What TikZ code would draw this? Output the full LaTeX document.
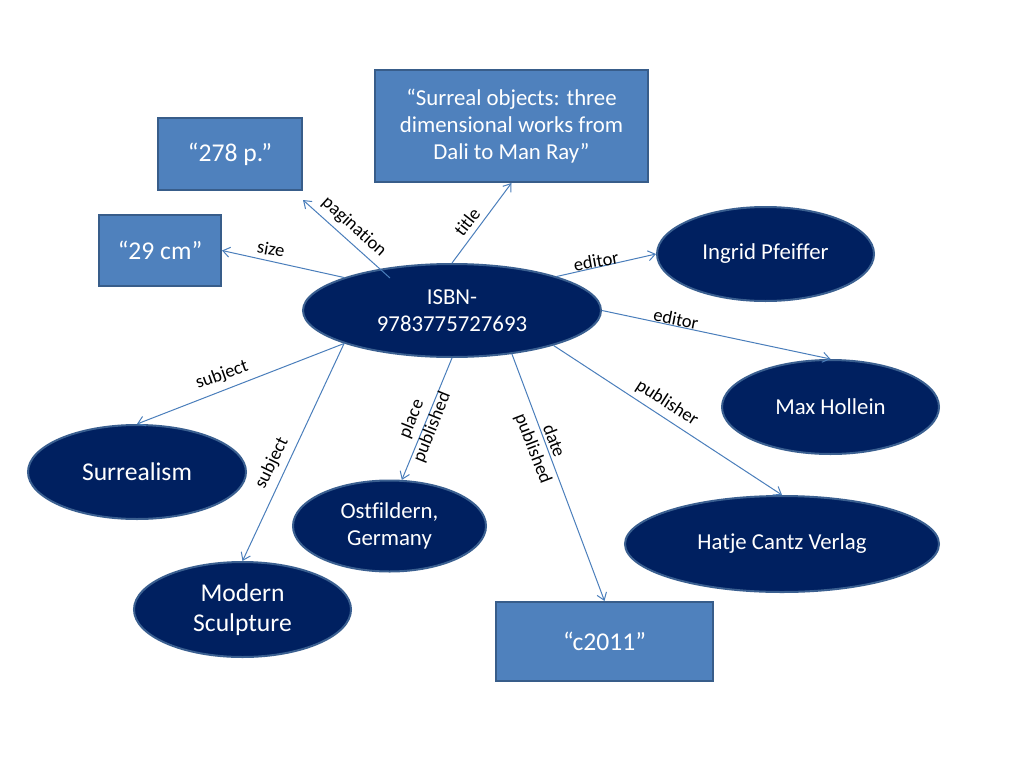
\documentclass[tikz,border=0pt]{standalone}
\usepackage{fontspec}
\setmainfont{Carlito}[Ligatures=NoCommon]
\usetikzlibrary{arrows.meta,shapes.geometric}
\definecolor{navy}{HTML}{002060}
\definecolor{ellborder}{HTML}{3A5F90}
\definecolor{boxfill}{HTML}{4F81BD}
\definecolor{boxborder}{HTML}{385D8A}
\definecolor{edgecol}{HTML}{4A7EBB}
\begin{document}
\begin{tikzpicture}[x=1pt,y=-1pt,
  ell/.style={ellipse, draw=ellborder, line width=2pt, fill=navy, text=white,
    inner sep=0pt, align=center, font=\fontsize{22.8}{27.5}\selectfont},
  bigell/.style={ell, font=\fontsize{25.6}{30.5}\selectfont},
  rbox/.style={rectangle, draw=boxborder, line width=2pt, fill=boxfill, text=white,
    inner sep=0pt, align=center, font=\fontsize{25.6}{30.5}\selectfont},
  conn/.style={draw=edgecol, line width=1pt, -{Straight Barb[length=7pt,width=10pt]}},
  lbl/.style={font=\fontsize{18.5}{22}\selectfont, inner sep=0pt, align=center, text=black}]
\fill[white] (0,0) rectangle (1024,768);
\useasboundingbox (0,0) rectangle (1024,768);

% nodes
\node[ell, minimum width=298pt, minimum height=93pt] (isbn) at (452,310.5) {ISBN-\\9783775727693};
\node[rbox, minimum width=144pt, minimum height=72pt] (p278) at (230,154) {“278 p.”};
\node[rbox, minimum width=122pt, minimum height=71pt] (cm) at (160,250.5) {“29 cm”};
\node[rbox, minimum width=273pt, minimum height=112pt, font=\fontsize{22.8}{27}\selectfont] (title) at (511.5,126)
  {“Surreal objects: three\\dimensional works from\\Dali to Man Ray”};
\node[ell, minimum width=217pt, minimum height=94pt] (ingrid) at (765.5,254) {Ingrid Pfeiffer};
\node[ell, minimum width=217pt, minimum height=94pt] (max) at (830.5,407) {Max Hollein};
\node[ell, minimum width=314pt, minimum height=96pt] (hatje) at (782,544) {Hatje Cantz Verlag};
\node[rbox, minimum width=217pt, minimum height=79pt] (c2011) at (604.5,641.5) {“c2011”};
\node[ell, minimum width=193pt, minimum height=91pt] (ost) at (389.5,526) {Ostfildern,\\Germany};
\node[bigell, minimum width=218pt, minimum height=94pt] (surr) at (137,472) {Surrealism};
\node[bigell, minimum width=217pt, minimum height=95pt] (mod) at (242.5,609.5) {Modern\\Sculpture};

\coordinate (pagstart) at (390,278);

% connectors
\draw[conn] (isbn.163) -- (cm.east);
\draw[conn] (pagstart) -- ([yshift=-9pt]p278.south east);
\draw[conn] (isbn.north) -- (title.south);
\draw[conn] (isbn.18) -- (ingrid.west);
\draw[conn] (isbn.east) -- (max.north);
\draw[conn] (isbn.-19) -- (hatje.north);
\draw[conn] (isbn.-36) -- (c2011.north);
\draw[conn] (isbn.south) -- (ost.75);
\draw[conn] (isbn.197) -- (surr.north);
\draw[conn] (isbn.197) -- (mod.north);

% labels
\node[lbl, rotate=-10] (lsize) at (271,249) {size};
\node[lbl, rotate=-42] (lpag) at (354,227) {pagination};
\node[lbl, rotate=52] (ltitle) at (467,222) {title};
\node[lbl, rotate=10] (led1) at (596,261) {editor};
\node[lbl, rotate=-11] (led2) at (676,319) {editor};
\node[lbl, rotate=-33] (lpub) at (667,403) {publisher};
\node[lbl, rotate=-69] (ldate) at (543,445) {date\\published};
\node[lbl, rotate=68] (lplace) at (422,423) {place\\published};
\node[lbl, rotate=20] (lsub1) at (222,375) {subject};
\node[lbl, rotate=64] (lsub2) at (272,463) {subject};
\end{tikzpicture}
\end{document}
